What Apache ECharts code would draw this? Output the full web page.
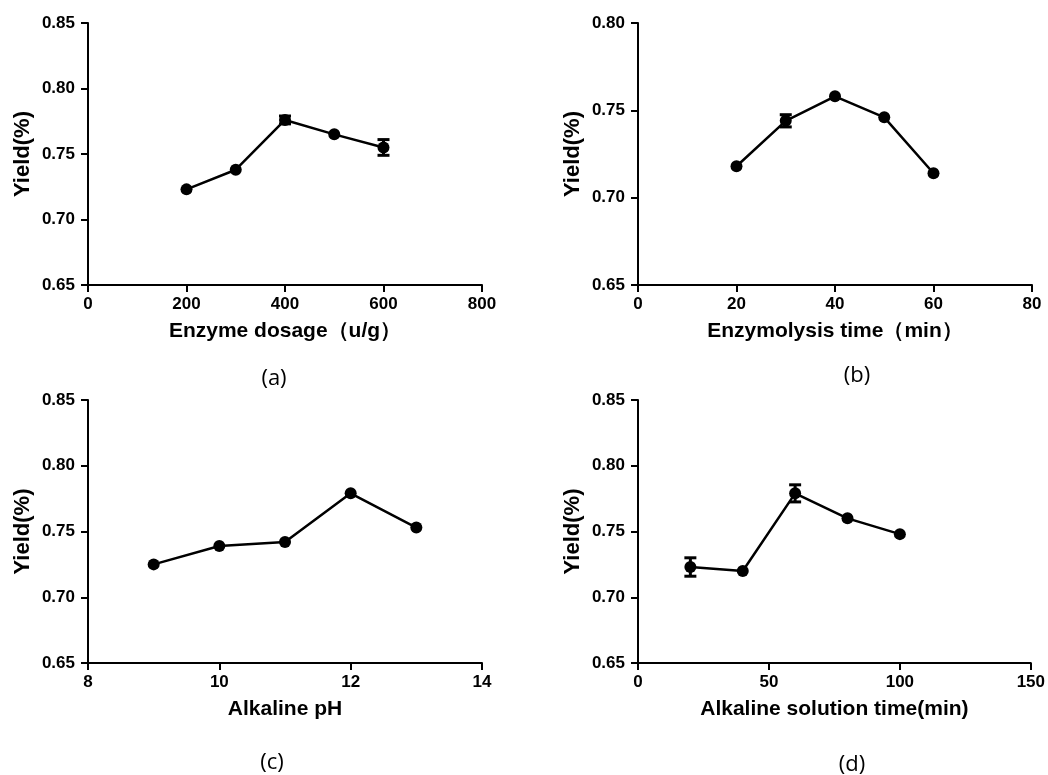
<!DOCTYPE html>
<html>
<head>
<meta charset="utf-8">
<script src="https://cdn.jsdelivr.net/npm/echarts@6/dist/echarts.min.js"></script>
<style>
html, body { margin: 0; padding: 0; background: #fff; }
#main { width: 1048px; height: 775px; }
</style>
</head>
<body>
<div id="main"></div>
<script>
// (a) enzyme dosage
const xA = [200, 300, 400, 500, 600]
const yA = [0.723, 0.738, 0.776, 0.765, 0.755]
const errA = [0, 0, 0.003, 0, 0.006]
// (b) enzymolysis time
const xB = [20, 30, 40, 50, 60]
const yB = [0.718, 0.744, 0.758, 0.746, 0.714]
const errB = [0, 0.0035, 0, 0, 0]
// (c) alkaline pH
const xC = [9, 10, 11, 12, 13]
const yC = [0.725, 0.739, 0.742, 0.779, 0.753]
const errC = [0, 0, 0, 0, 0]
// (d) alkaline solution time
const xD = [20, 40, 60, 80, 100]
const yD = [0.723, 0.720, 0.779, 0.760, 0.748]
const errD = [0.007, 0, 0.0065, 0, 0]

const xNames = ['Enzyme dosage（u/g）', 'Enzymolysis time（min）', 'Alkaline pH', 'Alkaline solution time(min)']
const yName = 'Yield(%)'
const captions = ['(a)', '(b)', '(c)', '(d)']
const xRanges = [[0, 800, 200], [0, 80, 20], [8, 14, 2], [0, 150, 50]]
const yRanges = [[0.65, 0.85, 0.05], [0.65, 0.80, 0.05], [0.65, 0.85, 0.05], [0.65, 0.85, 0.05]]

const FONT = 'Liberation Sans, Arial, sans-serif'
const myChart = echarts.init(document.getElementById('main'))

const grids = [
	{left: 88, right: 566, top: 23, height: 262},
	{left: 638, right: 16, top: 23, height: 262},
	{left: 88, right: 566, top: 400, height: 263},
	{left: 638, right: 16, top: 400, height: 263}
]

function pairs(xs, ys) {
	return xs.map((x, i) => [x, ys[i]])
}
function errData(xs, ys, es) {
	let arr = []
	for (let i = 0; i < xs.length; i++) {
		if (es[i] > 0) arr.push([xs[i], ys[i] - es[i], ys[i] + es[i]])
	}
	return arr
}

const axisStyle = {
	axisLine: {show: true, onZero: false, lineStyle: {color: '#000', width: 2}},
	axisTick: {show: true, inside: false, length: 7, lineStyle: {color: '#000', width: 2}},
	splitLine: {show: false}
}

let xAxes = [], yAxes = [], series = []
const allX = [xA, xB, xC, xD]
const allY = [yA, yB, yC, yD]
const allE = [errA, errB, errC, errD]

for (let i = 0; i < 4; i++) {
	xAxes.push(Object.assign({
		gridIndex: i,
		type: 'value',
		min: xRanges[i][0], max: xRanges[i][1], interval: xRanges[i][2],
		name: xNames[i],
		nameLocation: 'middle',
		nameGap: 36,
		nameTextStyle: {fontFamily: FONT, fontWeight: 'bold', fontSize: 21, color: '#000'},
		axisLabel: {fontFamily: FONT, fontWeight: 'bold', fontSize: 17, color: '#000', margin: 11}
	}, axisStyle))
	yAxes.push(Object.assign({
		gridIndex: i,
		type: 'value',
		min: yRanges[i][0], max: yRanges[i][1], interval: yRanges[i][2],
		name: yName,
		nameLocation: 'middle',
		nameGap: 54,
		nameTextStyle: {fontFamily: FONT, fontWeight: 'bold', fontSize: 22, color: '#000'},
		axisLabel: {fontFamily: FONT, fontWeight: 'bold', fontSize: 17, color: '#000', margin: 13,
			formatter: v => v.toFixed(2)}
	}, axisStyle))
	series.push({
		type: 'line',
		xAxisIndex: i, yAxisIndex: i,
		data: pairs(allX[i], allY[i]),
		symbol: 'circle',
		symbolSize: 12,
		itemStyle: {color: '#000'},
		lineStyle: {color: '#000', width: 2.5},
		animation: false
	})
	series.push({
		type: 'custom',
		xAxisIndex: i, yAxisIndex: i,
		data: errData(allX[i], allY[i], allE[i]),
		z: 5,
		renderItem: function (params, api) {
			const lo = api.coord([api.value(0), api.value(1)])
			const hi = api.coord([api.value(0), api.value(2)])
			const w = 6
			const st = {stroke: '#000', lineWidth: 3}
			return {
				type: 'group',
				children: [
					{type: 'line', shape: {x1: lo[0], y1: lo[1], x2: hi[0], y2: hi[1]}, style: st},
					{type: 'line', shape: {x1: lo[0] - w, y1: lo[1], x2: lo[0] + w, y2: lo[1]}, style: st},
					{type: 'line', shape: {x1: hi[0] - w, y1: hi[1], x2: hi[0] + w, y2: hi[1]}, style: st}
				]
			}
		},
		animation: false
	})
}

const capPos = [[274, 379], [857, 376], [272, 763], [852, 765]]
let graphics = captions.map((c, i) => ({
	type: 'text',
	x: capPos[i][0], y: capPos[i][1],
	style: {text: c, align: 'center', verticalAlign: 'middle',
		font: 'normal 22px "Open Sans", sans-serif', fill: '#000'}
}))

let option = {
	animation: false,
	backgroundColor: '#fff',
	grid: grids,
	xAxis: xAxes,
	yAxis: yAxes,
	series: series,
	graphic: graphics
}
myChart.setOption(option)
</script>
</body>
</html>
